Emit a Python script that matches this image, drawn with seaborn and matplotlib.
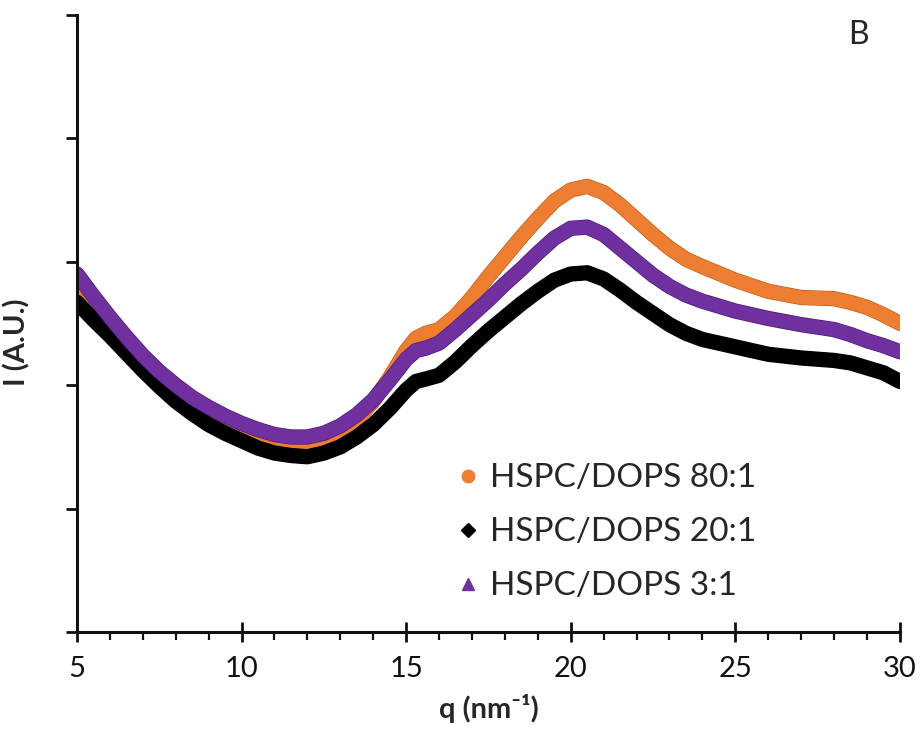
import numpy as np
import pandas as pd
import seaborn as sns
import matplotlib
matplotlib.use("Agg")
import matplotlib.pyplot as plt
from matplotlib.lines import Line2D
from matplotlib.ticker import MultipleLocator
import matplotlib.patheffects as pe

q = [5, 5.5, 6, 6.5, 7, 7.5, 8, 8.5, 9, 9.5, 10, 10.5, 11, 11.5, 12, 12.5, 13, 13.5,
     14, 14.5, 15, 15.3, 15.6, 16, 16.5, 17, 17.5, 18, 18.5, 19, 19.5, 20, 20.5, 21,
     21.5, 22, 22.5, 23, 23.5, 24, 25, 26, 27, 28, 28.5, 29, 29.5, 30]

i_80 = [2.80, 2.65, 2.50, 2.34, 2.19, 2.06, 1.95, 1.85, 1.77, 1.70, 1.64, 1.59, 1.55, 1.53,
        1.53, 1.56, 1.62, 1.72, 1.87, 2.06, 2.28, 2.38, 2.42, 2.45, 2.56, 2.71, 2.88, 3.04,
        3.20, 3.35, 3.49, 3.58, 3.61, 3.56, 3.46, 3.34, 3.22, 3.11, 3.02, 2.96, 2.85, 2.76,
        2.71, 2.70, 2.67, 2.63, 2.57, 2.50]

i_20 = [2.67, 2.53, 2.40, 2.26, 2.12, 1.99, 1.87, 1.77, 1.68, 1.61, 1.55, 1.49, 1.45, 1.43,
        1.42, 1.45, 1.50, 1.58, 1.68, 1.81, 1.96, 2.03, 2.05, 2.08, 2.19, 2.32, 2.44, 2.55,
        2.66, 2.76, 2.85, 2.90, 2.91, 2.86, 2.77, 2.67, 2.58, 2.49, 2.42, 2.37, 2.31, 2.25,
        2.22, 2.20, 2.18, 2.14, 2.10, 2.03]

i_3 = [2.90, 2.72, 2.55, 2.39, 2.24, 2.11, 2.00, 1.90, 1.82, 1.75, 1.69, 1.64, 1.60, 1.58,
       1.58, 1.61, 1.67, 1.76, 1.88, 2.04, 2.21, 2.28, 2.30, 2.34, 2.45, 2.57, 2.69, 2.82,
       2.94, 3.07, 3.19, 3.27, 3.28, 3.22, 3.11, 3.00, 2.89, 2.80, 2.73, 2.68, 2.60, 2.54,
       2.49, 2.45, 2.41, 2.36, 2.32, 2.27]

labels = ["HSPC/DOPS 80:1", "HSPC/DOPS 20:1", "HSPC/DOPS 3:1"]
colors = ["#ED7D31", "#000000", "#7030A0"]
edge_colors = ["#C0601A", "#000000", "#4B1A78"]
markers = ["o", "D", "^"]
x_ticks = [5, 10, 15, 20, 25, 30]

df = pd.concat([
    pd.DataFrame({"q": q, "I": i_80, "sample": labels[0]}),
    pd.DataFrame({"q": q, "I": i_20, "sample": labels[1]}),
    pd.DataFrame({"q": q, "I": i_3, "sample": labels[2]}),
])

sns.set_style("white")
plt.rcParams["font.family"] = ["Lato", "DejaVu Sans"]

fig = plt.figure(figsize=(9.22, 7.35), dpi=100)
ax = fig.add_axes([0.0835, 0.140, 0.8925, 0.840])

for lab, col, ec in zip(labels, colors, edge_colors):
    sub = df[df["sample"] == lab]
    sns.lineplot(data=sub, x="q", y="I", color=col, linewidth=10, ax=ax,
                 legend=False, sort=False, estimator=None)
    ln = ax.lines[-1]
    ln.set_solid_capstyle("round")
    ln.set_solid_joinstyle("round")
    ln.set_path_effects([pe.Stroke(linewidth=11, foreground=ec), pe.Normal()])

ax.set_xlim(5, 30)
ax.set_ylim(0, 5)
ax.xaxis.set_major_locator(MultipleLocator(5))
ax.xaxis.set_minor_locator(MultipleLocator(1))
ax.yaxis.set_major_locator(MultipleLocator(1))
ax.set_xticks(x_ticks)
ax.set_xticklabels([str(t) for t in x_ticks])
ax.set_yticklabels([])

for s in ["top", "right"]:
    ax.spines[s].set_visible(False)
for s in ["left", "bottom"]:
    ax.spines[s].set_linewidth(2.2)
    ax.spines[s].set_color("#111111")

ax.tick_params(axis="x", which="major", bottom=True, direction="inout", length=14,
               width=2, labelsize=21, pad=10, colors="#111111")
ax.tick_params(axis="x", which="minor", bottom=True, direction="out", length=6,
               width=1.6, colors="#111111")
ax.tick_params(axis="y", which="major", left=True, direction="out", length=8, width=2,
               colors="#111111")
ax.tick_params(axis="y", which="minor", left=False)

ax.set_xlabel("q (nm⁻¹)", fontsize=21, fontweight="bold", labelpad=9)
ax.set_ylabel("I (A.U.)", fontsize=21, fontweight="bold")
ax.yaxis.set_label_coords(-0.057, 0.47)

ax.text(0.937, 0.992, "B", transform=ax.transAxes, fontsize=23, ha="left", va="top")

handles = [Line2D([], [], linestyle="none", marker=m, color=c, markersize=ms)
           for m, c, ms in zip(markers, colors, [9, 7, 8])]
leg = ax.legend(handles, labels, loc="upper left", bbox_to_anchor=(0.443, 0.295),
                frameon=False, fontsize=24, handletextpad=0.25, labelspacing=0.72,
                handlelength=0.8, borderaxespad=0)

fig.savefig("out.png", dpi=100)
